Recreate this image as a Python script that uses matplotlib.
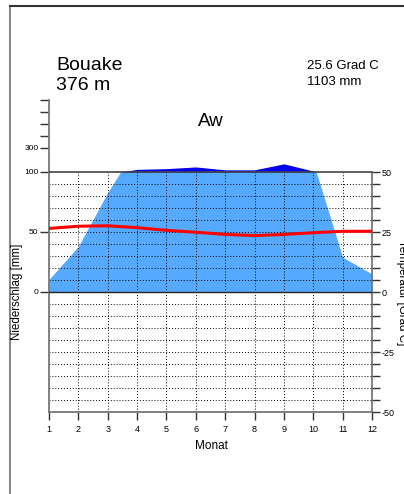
import numpy as np
import matplotlib
matplotlib.use("Agg")
import matplotlib.pyplot as plt
from matplotlib.lines import Line2D
from matplotlib.patches import Rectangle

plt.rcParams['font.family'] = ['Liberation Sans', 'DejaVu Sans']

# Klimadaten Bouake
station = "Bouake"
hoehe = "376 m"
klima = "Aw"
monate = np.arange(1, 13)
niederschlag = [10.5, 38, 83, 122, 128, 142, 118, 118, 168, 108, 29, 15]   # mm
temperatur = [26.5, 27.4, 27.6, 26.8, 25.7, 24.9, 24.0, 23.5, 24.0, 24.7, 25.3, 25.3]  # Grad C
jahr_temp = "25.6 Grad C"
jahr_nied = "1103 mm"

P = np.array(niederschlag, dtype=float)
T = np.array(temperatur, dtype=float)

fig = plt.figure(figsize=(4.04, 4.94), dpi=100)
W, H = 404, 494

def fx(px):
    return px / W

def fy(py):
    return 1 - py / H

# axes: y in "mm" units, -100..160 (above 100 compressed 1:10)
ax = fig.add_axes([fx(49), fy(412), fx(372) - fx(49), fy(100) - fy(412)])
ax.set_xlim(1, 12)
ax.set_ylim(-100, 160)

# light blue precipitation, clipped at 100
clip = Rectangle((1, -100), 11, 200, transform=ax.transData)
poly = ax.fill_between(monate, 0, P, color='#55aaff', lw=0, zorder=1)
poly.set_clip_path(clip)

# dark blue part above 100 mm (scale 1:10)
Pt = 100 + (P - 100) / 10.0
ax.fill_between(monate, 100, Pt, where=Pt > 100, interpolate=True,
                color='#0000ee', lw=0, zorder=1)

# dotted grid
for yy in range(-90, 100, 10):
    if yy == 0:
        continue
    ax.plot([1, 12], [yy, yy], color='black', ls=(0, (1, 2)), lw=0.7, zorder=2)
for m in range(2, 12):
    ax.plot([m, m], [-100, 100], color='black', ls=(0, (1, 2)), lw=0.7, zorder=2)
ax.plot([1, 12], [0, 0], color='#222222', lw=1.0, zorder=3)
ax.plot([1, 12], [100, 100], color='#444444', lw=1.2, zorder=3)

# temperature (1 Grad C = 2 mm)
ax.plot(monate, T * 2, color='#ff0000', lw=2.2, zorder=4)

# spines
for s in ['top']:
    ax.spines[s].set_visible(False)
ax.spines['left'].set_bounds(-100, 160)
ax.spines['right'].set_bounds(-100, 100)
for s in ['left', 'right', 'bottom']:
    ax.spines[s].set_color('#777777')
    ax.spines[s].set_linewidth(1.3)
ax.patch.set_visible(False)

# left ticks
ax.set_yticks([0, 50, 100, 120])
ax.set_yticklabels(['0', '50', '100', '300'])
ax.set_yticks([130, 140, 150, 160], minor=True)
ax.tick_params(axis='y', which='both', direction='out', length=6.5, width=1.0,
               color='#333333', labelsize=6, pad=1)

# right axis for temperature
ax2 = ax.twinx()
ax2.set_ylim(-50, 80)
for s in ['top', 'left', 'bottom', 'right']:
    ax2.spines[s].set_visible(False)
ax2.set_yticks([-50, -25, 0, 25, 50])
ax2.set_yticklabels(['-50', '-25', '0', '25', '50'])
ax2.set_yticks(np.arange(-45, 50, 5), minor=True)
ax2.tick_params(axis='y', which='both', direction='out', length=6, width=1.0,
                color='#333333', labelsize=6.5, pad=1)

# x ticks
ax.set_xticks(monate)
ax.set_xticklabels([str(m) for m in monate])
ax.tick_params(axis='x', direction='out', length=6, width=1.0, color='#333333',
               labelsize=6.5, pad=3)

# texts
fig.text(fx(56), fy(70), station, fontsize=14, va='baseline', ha='left')
fig.text(fx(56), fy(90), hoehe, fontsize=14, va='baseline', ha='left')
fig.text(fx(307), fy(69), jahr_temp, fontsize=9.5, va='baseline', ha='left')
fig.text(fx(307), fy(85), jahr_nied, fontsize=9.5, va='baseline', ha='left')
fig.text(fx(211), fy(126), klima, fontsize=13.5, va='baseline', ha='center')
fig.text(fx(211), fy(449), "Monat", fontsize=8.5, va='baseline', ha='center')
fig.text(fx(17), fy(292), "Niederschlag [mm]", fontsize=8.3, rotation=90,
         va='center', ha='center')
fig.text(fx(396), fy(293), "Temperatur [Grad C]", fontsize=8.3, rotation=-90,
         va='center', ha='left')

# frame lines
fig.add_artist(Line2D([fx(10), fx(10)], [fy(6), 0], color='#888888', lw=1.5))
fig.add_artist(Line2D([fx(10), 1], [fy(6), fy(6)], color='#333333', lw=1.5))

fig.savefig("out.png", dpi=100)
